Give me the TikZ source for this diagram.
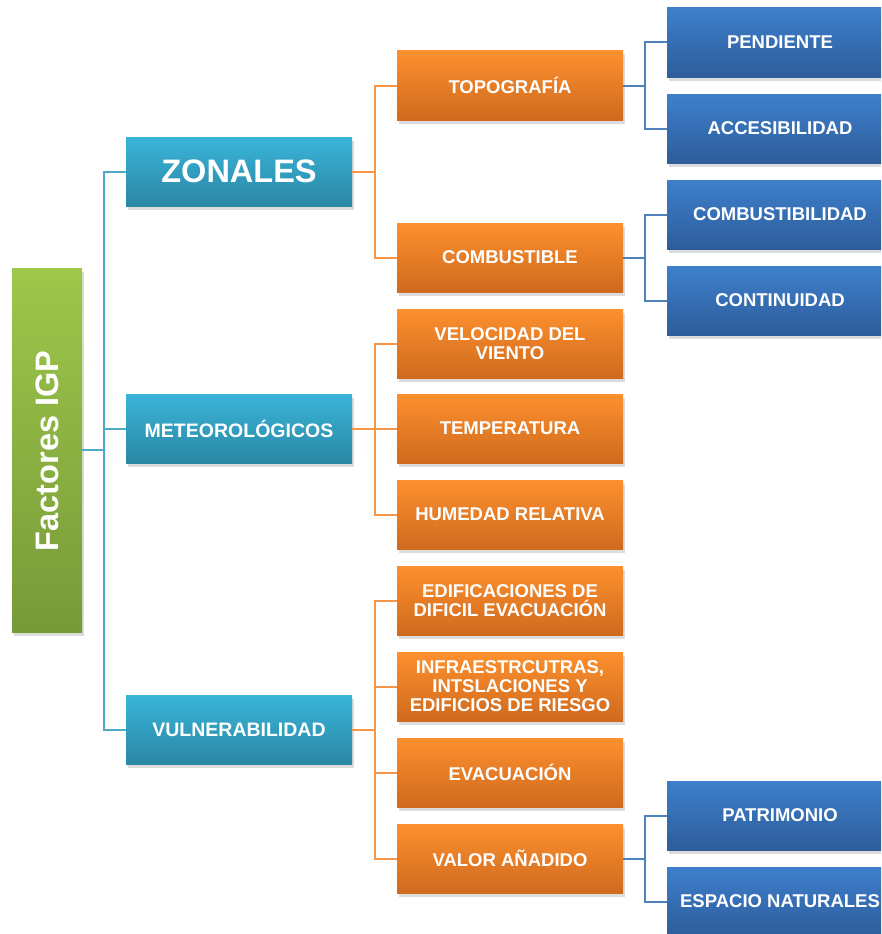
\documentclass[tikz,border=0pt]{standalone}
\usepackage{fontspec}
\setmainfont{Liberation Sans}
\usetikzlibrary{shadows}
\definecolor{cyT}{HTML}{3AB4D9}
\definecolor{cyB}{HTML}{2A87A3}
\definecolor{orT}{HTML}{FD902E}
\definecolor{orB}{HTML}{CF6A1E}
\definecolor{blT}{HTML}{3D7FCC}
\definecolor{blB}{HTML}{2E5D9B}
\definecolor{grT}{HTML}{9EC74B}
\definecolor{grB}{HTML}{779A39}
\definecolor{cyL}{HTML}{4FAAC8}
\definecolor{orL}{HTML}{F79646}
\definecolor{blL}{HTML}{4F81BD}
\tikzset{
  box/.style={rectangle, inner sep=0pt, align=center, text=white,
    font=\bfseries\fontsize{18.5}{19}\selectfont,
    drop shadow={opacity=0.28, shadow xshift=2pt, shadow yshift=-3.5pt}},
  rootbox/.style={box, minimum width=70pt, minimum height=364pt, top color=grT, bottom color=grB},
  cybox/.style={box, minimum width=226pt, minimum height=69pt, top color=cyT, bottom color=cyB},
  orbox/.style={box, minimum width=226pt, minimum height=69pt, top color=orT, bottom color=orB},
  blbox/.style={box, minimum width=226pt, minimum height=69pt, top color=blT, bottom color=blB},
  cyline/.style={draw=cyL, line width=2pt},
  orline/.style={draw=orL, line width=2pt},
  blline/.style={draw=blL, line width=2pt},
}
\begin{document}
\begin{tikzpicture}[x=1pt,y=-1pt]
\useasboundingbox (0,0) rectangle (881,934);
\clip (0,0) rectangle (881,934);
% junctions
\coordinate (j1) at (104,450);
\coordinate (j2) at (375,171.5);
\coordinate (j3) at (375,428.5);
\coordinate (j4) at (375,730);
\coordinate (k1) at (645,85.5);
\coordinate (k2) at (645,257.5);
\coordinate (k3) at (645,858.5);
% nodes
\node[rootbox] (root) at (47,450) {};
\node[text=white, font=\bfseries\fontsize{32.5}{32.5}\selectfont, rotate=90] (roottxt) at (47,451) {Factores IGP};
\node[cybox, font=\bfseries\fontsize{32.5}{32.5}\selectfont] (zon) at (239,171.5) {ZONALES};
\node[cybox, font=\bfseries\fontsize{19.5}{20}\selectfont] (met) at (239,428.5) {METEOROLÓGICOS};
\node[cybox, font=\bfseries\fontsize{19.5}{20}\selectfont] (vul) at (239,730) {VULNERABILIDAD};
\node[orbox] (topo) at (510,85.5) {TOPOGRAFÍA};
\node[orbox] (comb) at (510,257.5) {COMBUSTIBLE};
\node[orbox] (velo) at (510,343.5) {VELOCIDAD DEL\\VIENTO};
\node[orbox] (temp) at (510,428.5) {TEMPERATURA};
\node[orbox] (hum) at (510,514.5) {HUMEDAD RELATIVA};
\node[orbox] (edif) at (510,600.5) {EDIFICACIONES DE\\DIFICIL EVACUACIÓN};
\node[orbox] (infra) at (510,686.5) {INFRAESTRCUTRAS,\\INTSLACIONES Y\\EDIFICIOS DE RIESGO};
\node[orbox] (evac) at (510,772.5) {EVACUACIÓN};
\node[orbox] (valor) at (510,858.5) {VALOR AÑADIDO};
\node[blbox] (pend) at (780,42.5) {PENDIENTE};
\node[blbox] (acc) at (780,128.5) {ACCESIBILIDAD};
\node[blbox] (cmbt) at (780,214.5) {COMBUSTIBILIDAD};
\node[blbox] (cont) at (780,300.5) {CONTINUIDAD};
\node[blbox] (patr) at (780,815.5) {PATRIMONIO};
\node[blbox] (esp) at (780,901.5) {ESPACIO NATURALES};
% connectors
\draw[cyline] (root.east) -- (j1);
\draw[cyline] (j1) |- (zon.west);
\draw[cyline] (j1) |- (met.west);
\draw[cyline] (j1) |- (vul.west);
\draw[orline] (zon.east) -- (j2);
\draw[orline] (j2) |- (topo.west);
\draw[orline] (j2) |- (comb.west);
\draw[orline] (met.east) -- (j3);
\draw[orline] (j3) |- (velo.west);
\draw[orline] (j3) |- (temp.west);
\draw[orline] (j3) |- (hum.west);
\draw[orline] (vul.east) -- (j4);
\draw[orline] (j4) |- (edif.west);
\draw[orline] (j4) |- (infra.west);
\draw[orline] (j4) |- (evac.west);
\draw[orline] (j4) |- (valor.west);
\draw[blline] (topo.east) -- (k1);
\draw[blline] (k1) |- (pend.west);
\draw[blline] (k1) |- (acc.west);
\draw[blline] (comb.east) -- (k2);
\draw[blline] (k2) |- (cmbt.west);
\draw[blline] (k2) |- (cont.west);
\draw[blline] (valor.east) -- (k3);
\draw[blline] (k3) |- (patr.west);
\draw[blline] (k3) |- (esp.west);
\end{tikzpicture}
\end{document}
